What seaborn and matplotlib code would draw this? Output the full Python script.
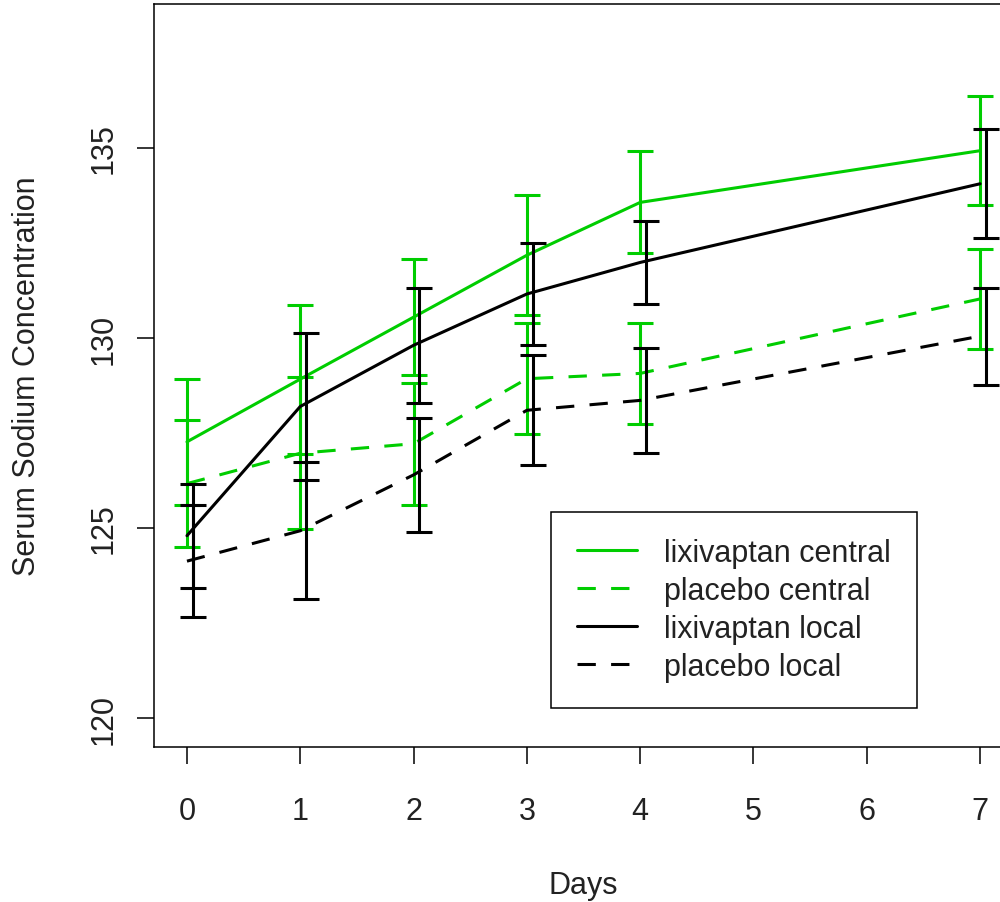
import matplotlib
matplotlib.use("Agg")
import matplotlib.pyplot as plt
import seaborn as sns
import pandas as pd
import numpy as np

days = [0, 1, 2, 3, 4, 7]
lixi_central = [127.27, 128.92, 130.55, 132.18, 133.57, 134.93]
lixi_central_se = [1.65, 1.96, 1.53, 1.58, 1.34, 1.43]
placebo_central = [126.17, 126.97, 127.22, 128.93, 129.07, 131.03]
placebo_central_se = [1.68, 2.00, 1.60, 1.46, 1.32, 1.32]
lixi_local = [124.80, 128.20, 129.81, 131.16, 131.99, 134.06]
lixi_local_se = [1.37, 1.93, 1.52, 1.34, 1.10, 1.44]
placebo_local = [124.13, 124.93, 126.40, 128.10, 128.36, 130.05]
placebo_local_se = [1.47, 1.80, 1.50, 1.45, 1.39, 1.28]

labels = ["lixivaptan central", "placebo central", "lixivaptan local", "placebo local"]
x_ticks = [0, 1, 2, 3, 4, 5, 6, 7]
y_ticks = [120, 125, 130, 135]

sns.set_theme(style="white")
plt.rcParams["font.family"] = ["Liberation Sans", "DejaVu Sans"]

GREEN = "#00cd00"
BLACK = "#000000"
FS = 22
LW = 2.2

fig = plt.figure(figsize=(10, 9.03), dpi=100)
ax = fig.add_axes([0.154, 1 - 748 / 903, 0.8635, 743 / 903])

series = [
    (labels[0], lixi_central, lixi_central_se, GREEN, "-", 0.0),
    (labels[1], placebo_central, placebo_central_se, GREEN, (0, (6, 5)), 0.0),
    (labels[2], lixi_local, lixi_local_se, BLACK, "-", 0.05),
    (labels[3], placebo_local, placebo_local_se, BLACK, (0, (6, 5)), 0.05),
]

handles = []
for name, vals, se, col, ls, off in series:
    df = pd.DataFrame({"Days": days, "value": vals})
    sns.lineplot(data=df, x="Days", y="value", ax=ax, color=col, linewidth=LW,
                 linestyle=ls, label=name, legend=False)
    handles.append(ax.lines[-1])
    ax.errorbar(np.array(days) + off, vals, yerr=se, fmt="none", ecolor=col,
                elinewidth=LW, capsize=9.4, capthick=LW)

ax.set_xlim(-0.291, 7.33)
ax.set_ylim(119.24, 138.79)
ax.set_xticks(x_ticks)
ax.set_xticklabels([str(v) for v in x_ticks])
ax.set_yticks(y_ticks)
ax.set_yticklabels([str(v) for v in y_ticks])

for s in ax.spines.values():
    s.set_color("black")
    s.set_linewidth(1.1)

ax.tick_params(axis="both", which="major", direction="out", length=12.2, width=1.1,
               color="black", labelsize=FS, labelcolor="#222222")
ax.tick_params(axis="x", pad=23, bottom=True)
ax.tick_params(axis="y", pad=13, left=True, labelrotation=90)
for t in ax.get_yticklabels():
    t.set_va("center")

ax.set_xlabel("Days", fontsize=FS, color="#222222", va="center", ha="center")
ax.xaxis.set_label_coords(0.497, -0.186)
ax.set_ylabel("Serum Sodium Concentration", fontsize=FS, color="#222222",
              va="center", ha="center")
ax.yaxis.set_label_coords(-0.147, 0.5)

leg = ax.legend(handles, labels, loc="upper left",
                bbox_to_anchor=(0.551, 1 - 513 / 903), bbox_transform=fig.transFigure,
                fontsize=FS, handlelength=1.96, handletextpad=0.9, labelspacing=0.26,
                borderpad=0.85, borderaxespad=0, frameon=True, fancybox=False,
                framealpha=1)
leg.get_frame().set_edgecolor("black")
leg.get_frame().set_linewidth(1.1)
for t in leg.get_texts():
    t.set_color("#222222")

fig.savefig("out.png", dpi=100)
